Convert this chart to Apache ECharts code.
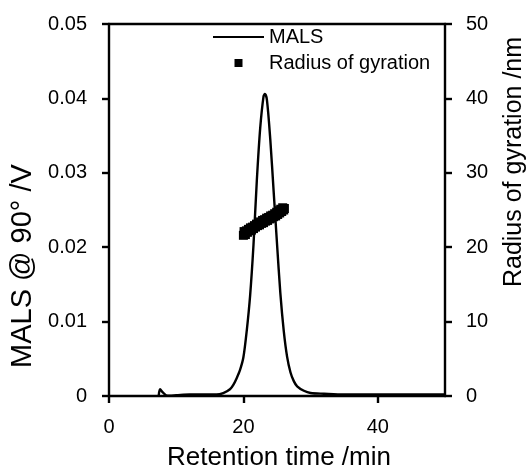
<!DOCTYPE html>
<html>
<head>
<meta charset="utf-8">
<script src="https://cdn.jsdelivr.net/npm/echarts@6/dist/echarts.min.js"></script>
<style>html,body{margin:0;padding:0;background:#fff}#c{width:528px;height:471px}</style>
</head>
<body>
<div id="c"></div>
<script>
// Retention time (min) and MALS signal (V)
const malsTime = [7.4, 7.6, 8.0, 8.5, 9, 10, 12, 14, 16, 17, 18, 18.5, 19, 19.5, 20, 20.5, 21, 21.5, 22, 22.5, 23, 23.2, 23.5, 24, 24.5, 25, 25.5, 26, 26.5, 27, 27.5, 28, 29, 30, 32, 35, 40, 45, 50];
const malsValue = [0.0001, 0.0009, 0.0005, 0.0001, 0.00005, 0.0001, 0.0002, 0.0002, 0.0002, 0.0004, 0.0009, 0.0015, 0.0024, 0.0035, 0.0052, 0.0088, 0.0135, 0.0203, 0.029, 0.036, 0.0403, 0.0406, 0.0398, 0.0345, 0.0275, 0.0205, 0.0138, 0.0088, 0.0053, 0.0032, 0.002, 0.0013, 0.0007, 0.0004, 0.0003, 0.0002, 0.0002, 0.0002, 0.0002];
// Radius of gyration (nm) vs retention time (min)
const rgTime = [20.0, 20.1, 20.15, 20.3, 20.45, 20.6, 20.75, 20.9, 21.05, 21.2, 21.35, 21.5, 21.65, 21.8, 21.95, 22.1, 22.25, 22.4, 22.55, 22.7, 22.85, 23.0, 23.15, 23.3, 23.45, 23.6, 23.75, 23.9, 24.05, 24.2, 24.35, 24.5, 24.65, 24.8, 24.95, 25.1, 25.25, 25.4, 25.55, 25.7, 25.85, 26.0, 26.1];
const rgValue = [21.6, 22.1, 21.9, 21.7, 22.2, 22.0, 22.4, 22.2, 22.6, 22.3, 22.7, 22.5, 22.9, 22.7, 23.1, 22.9, 23.2, 23.0, 23.4, 23.2, 23.6, 23.3, 23.7, 23.5, 23.9, 23.6, 24.0, 23.8, 24.2, 23.9, 24.3, 24.1, 24.5, 24.2, 24.7, 24.4, 24.9, 24.6, 25.1, 24.8, 25.3, 25.0, 25.2];
const xTicks = [0, 20, 40];
const seriesNames = ['MALS', 'Radius of gyration'];
const axisTitles = {x: 'Retention time /min', yLeft: 'MALS @ 90° /V', yRight: 'Radius of gyration /nm'};

const FONT = 'Liberation Sans, Arial, sans-serif';
const LW = 2.4;
const axisCommon = {
  axisLine: {show: true, onZero: false, lineStyle: {color: '#000', width: LW}},
  axisTick: {show: true, inside: false, length: 7, lineStyle: {color: '#000', width: LW}},
  axisLabel: {color: '#000', fontSize: 20, fontFamily: FONT},
  splitLine: {show: false}
};
const chart = echarts.init(document.getElementById('c'), null, {renderer: 'canvas'});
chart.setOption({
  animation: false,
  backgroundColor: '#fff',
  grid: {left: 109, right: 83, top: 24, bottom: 75, containLabel: false, outerBoundsMode: 'none'},
  legend: {
    orient: 'vertical', left: 212, top: 27, padding: 0,
    itemWidth: 51, itemHeight: 8, itemGap: 6, itemTextGap: 5,
    textStyle: {color: '#000', fontSize: 20, fontFamily: FONT},
    data: [
      {name: seriesNames[0], itemStyle: {opacity: 0}},
      {name: seriesNames[1], icon: 'path://M0,0L10,0L10,10L0,10Z'}
    ]
  },
  xAxis: [
    Object.assign({}, axisCommon, {
      type: 'value', min: 0, max: 50, position: 'bottom',
      axisTick: Object.assign({}, axisCommon.axisTick, {customValues: xTicks}),
      axisLabel: Object.assign({}, axisCommon.axisLabel, {customValues: xTicks, margin: 21}),
      name: axisTitles.x, nameLocation: 'middle', nameGap: 49,
      nameTextStyle: {color: '#000', fontSize: 26, fontFamily: FONT, padding: [0, 0, 0, 4]}
    }),
    {type: 'value', min: 0, max: 50, position: 'top', axisLine: {show: true, onZero: false, lineStyle: {color: '#000', width: LW}}, axisTick: {show: false}, axisLabel: {show: false}, splitLine: {show: false}}
  ],
  yAxis: [
    Object.assign({}, axisCommon, {
      type: 'value', min: 0, max: 0.05, interval: 0.01, position: 'left',
      axisLabel: Object.assign({}, axisCommon.axisLabel, {margin: 22}),
      name: axisTitles.yLeft, nameLocation: 'middle', nameGap: 71,
      nameTextStyle: {color: '#000', fontSize: 29, fontFamily: FONT, padding: [0, 112, 0, 0]}
    }),
    Object.assign({}, axisCommon, {
      type: 'value', min: 0, max: 50, interval: 10, position: 'right',
      axisLabel: Object.assign({}, axisCommon.axisLabel, {margin: 21}),
      name: axisTitles.yRight, nameLocation: 'middle', nameGap: 57,
      nameTextStyle: {color: '#000', fontSize: 25, fontFamily: FONT, padding: [0, 0, 0, 96]}
    })
  ],
  series: [
    {
      name: seriesNames[0], type: 'line', xAxisIndex: 0, yAxisIndex: 0,
      data: malsTime.map((t, i) => [t, malsValue[i]]),
      smooth: 0.3, showSymbol: false, symbol: 'none',
      lineStyle: {color: '#000', width: LW}, itemStyle: {color: '#000'}
    },
    {
      name: seriesNames[1], type: 'scatter', xAxisIndex: 0, yAxisIndex: 1,
      data: rgTime.map((t, i) => [t, rgValue[i]]),
      symbol: 'rect', symbolSize: 9, itemStyle: {color: '#000', opacity: 1}, z: 3
    }
  ]
});
</script>
</body>
</html>
